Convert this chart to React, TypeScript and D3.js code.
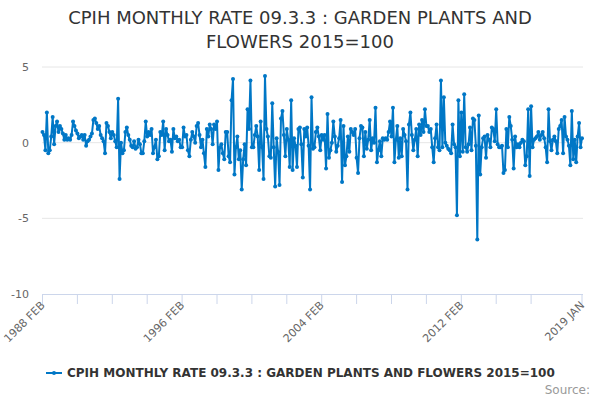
import * as d3 from 'd3';

// CPIH monthly rate, 1988 FEB .. 2019 JAN (372 months)
const part1 = [
    0.7, 0.5, -0.5, 2.0, -0.7, -0.5, 0.4, 1.7, -0.1, 1.1,
    1.4, 0.7, 1.1, 0.9, 0.6, 0.2, 0.5, 0.2, 0.3, 0.2,
    0.5, 1.4, 1.1, 0.8, 0.6, 0.3, 0.4, 0.5, 0.2, 0.5,
    -0.2, 0.1, 0.2, 0.4, 0.6, 1.5, 1.6, 1.3, 0.9, 1.1,
    0.5, 0.3, 0.1, -0.7, 1.3, 1.1, 0.7, 0.3, 0.7, 0.5,
    0.1, -0.3, 2.9, -2.4, 0.0, -0.7, -0.5, 0.7, 1.0, 0.5,
    0.2, -0.2, -0.3, 0.1, -0.4, -0.3, 0.2, -0.1, -0.7, -0.7,
    0.1, 1.4, 0.4, 0.7, 0.5, 0.9, -0.7, -0.3, 0.2, -1.1,
    -0.9, 0.7, 0.5, 1.4, -0.5, 0.9, 0.5, 0.1, 0.2, -0.6,
    0.9, 0.3, 0.4, 0.1, 0.2, -0.3, -0.3, 1.0, 0.4, 0.5,
];
const part2 = [
    -0.5, -0.9, 0.2, 0.7, 0.4, 0.0, 1.1, 1.3, 0.5, -0.3,
    0.2, -0.7, -1.6, 0.9, 0.4, 1.2, 0.9, -0.1, 1.2, 0.9,
    1.4, -1.8, -0.3, -0.1, -0.7, -1.1, 0.7, 0.7, -0.9, -1.3,
    2.8, 4.2, -2.1, -0.3, 0.4, -1.1, -0.5, -3.1, -1.1, -0.1,
    -1.5, 2.2, 0.9, 4.1, -0.3, -0.3, 0.5, 1.1, 0.4, -1.8,
    1.4, -0.3, -2.4, 4.4, 0.9, 0.4, -0.9, -1.0, 2.6, -0.3,
    -2.9, 0.3, -0.6, -2.8, 1.6, 2.1, 0.5, -0.9, 0.9, 0.2,
    -1.6, 2.8, -1.8, 0.3, -0.2, -1.6, 0.9, 1.0, -0.1, -2.3,
    0.9, 0.4, 1.0, -0.2, -3.1, 3.0, -0.4, -0.3, 0.7, 1.0,
    0.4, -0.5, 0.5, 0.2, 0.5, -1.7, 1.9, -1.0, -0.5, 0.0,
];
const part3 = [
    1.4, 0.4, -0.6, -0.2, 0.3, 1.5, -2.6, 1.1, -1.5, -0.9,
    0.4, -0.6, 0.9, 0.7, 0.5, 0.9, -1.0, -2.0, 0.3, 1.1,
    1.0, -0.9, 0.7, -0.4, 0.2, 1.5, -0.5, 0.3, 0.0, 2.3,
    -1.3, -0.5, 0.1, -0.9, 0.3, 0.2, 0.3, 0.2, 0.7, 1.4,
    0.4, 2.3, -1.3, 0.2, 1.1, -1.0, 0.3, -0.9, 0.9, 0.5,
    0.1, -3.1, 1.2, 2.0, 0.5, -0.5, 0.2, 0.9, -0.9, 1.2,
    0.5, 1.5, 0.7, 2.2, 1.1, 1.1, 0.7, 0.9, -0.3, -1.3,
    0.3, 1.2, -0.3, -0.5, 4.1, -0.3, 3.0, 0.0, -0.2, -0.4,
    -0.5, -0.7, 1.2, -0.1, -0.3, -4.8, 2.8, -0.9, 2.0, -0.6,
    3.2, -0.3, -0.6, -0.1, 1.0, -0.5, 1.6, 1.5, -0.2, -6.4,
];
const part4 = [
    1.8, -2.1, -0.3, 0.3, 0.4, -1.0, 0.5, 0.2, -0.3, 1.0,
    0.9, 0.1, 2.2, -0.1, -0.3, -0.3, -0.2, -2.0, -1.8, 0.9,
    -0.3, 1.7, 1.1, 0.2, -1.7, 0.4, -0.3, -0.1, -0.3, 0.0,
    0.2, 0.1, -1.5, -0.9, 2.2, -2.2, 2.4, -0.3, 0.2, 0.3,
    0.4, 0.7, 0.2, 0.5, 0.7, 0.3, -0.3, -1.3, 2.2, 0.1,
    -0.5, 0.2, 0.4, 0.1, -0.7, 0.9, 1.1, 1.5, -0.7, 1.7,
    0.4, 0.2, -0.2, -1.5, 2.1, -1.1, 0.2, -1.3, 0.4, 1.3,
    -0.3, 0.3,
];
const values = [...part1, ...part2, ...part3, ...part4];

const yTicks = [5, 0, -5, -10];
const tickIndexes = [0, 24, 48, 72, 96, 120, 144, 168, 192, 216, 240, 264, 288, 312, 336, 371];
const labelIndexes = [0, 96, 192, 288, 371];
const tickLabels = ['1988 FEB', '1996 FEB', '2004 FEB', '2012 FEB', '2019 JAN'];

const title1 = 'CPIH MONTHLY RATE 09.3.3 : GARDEN PLANTS AND';
const title2 = 'FLOWERS 2015=100';
const seriesName = 'CPIH MONTHLY RATE 09.3.3 : GARDEN PLANTS AND FLOWERS 2015=100';

const W = 600;
const H = 400;
const blue = '#0077c6';
const font = '"DejaVu Sans", Verdana, sans-serif';

export default function App() {
    const x = d3.scaleLinear().domain([0, values.length - 1]).range([42.5, 582]);
    const y = d3.scaleLinear().domain([-10, 5]).range([294, 67]);

    const line = d3
        .line<number>()
        .x((_, i) => x(i))
        .y(d => y(d));

    return (
        <svg
            width={W}
            height={H}
            style={{ position: 'absolute', left: 0, top: 0, fontFamily: font }}
        >
            <rect width={W} height={H} fill="#fff" />
            <text x={300} y={24} textAnchor="middle" fontSize={18} fill="#333">
                {title1}
            </text>
            <text x={300} y={48} textAnchor="middle" fontSize={18} fill="#333">
                {title2}
            </text>

            {yTicks.map(t => (
                <g key={t}>
                    {t !== -10 && (
                        <line x1={42} x2={583} y1={y(t)} y2={y(t)} stroke="#e6e6e6" />
                    )}
                    <text x={29} y={y(t) + 4} textAnchor="end" fontSize={11} fill="#666">
                        {t}
                    </text>
                </g>
            ))}

            <line x1={42} x2={583} y1={294.5} y2={294.5} stroke="#ccd6eb" />
            {tickIndexes.map(i => (
                <line key={i} x1={x(i)} x2={x(i)} y1={294} y2={304} stroke="#ccd6eb" />
            ))}
            {labelIndexes.map((i, k) => (
                <text
                    key={i}
                    transform={`translate(${x(i) + 3},${306}) rotate(-45)`}
                    textAnchor="end"
                    fontSize={11}
                    fill="#666"
                >
                    {tickLabels[k]}
                </text>
            ))}

            <path d={line(values) ?? ''} fill="none" stroke={blue} strokeWidth={2} strokeLinejoin="round" />
            {values.map((v, i) => (
                <circle key={i} cx={x(i)} cy={y(v)} r={2} fill={blue} />
            ))}

            <g>
                <line x1={46} x2={62} y1={373} y2={373} stroke={blue} strokeWidth={2} />
                <circle cx={54} cy={373} r={2} fill={blue} />
                <text x={67} y={377} fontSize={12} fontWeight="bold" fill="#333">
                    {seriesName}
                </text>
            </g>
            <text x={590} y={394} textAnchor="end" fontSize={12} fill="#999">
                Source:
            </text>
        </svg>
    );
}
